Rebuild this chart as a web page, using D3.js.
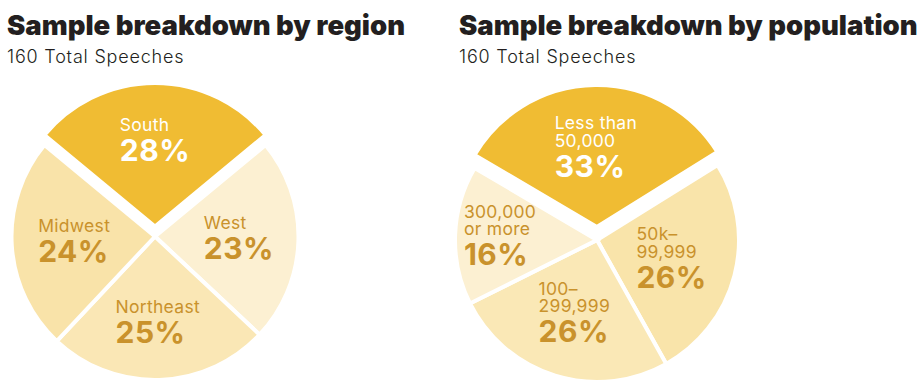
<!DOCTYPE html>
<html>
<head>
<meta charset="utf-8">
<script src="https://cdn.jsdelivr.net/npm/d3@7"></script>
<style>
  body { margin: 0; background: #fff; }
  text { font-family: Inter, "Open Sans", sans-serif; }
</style>
</head>
<body>
<div id="chart"></div>
<script>
const WIDTH = 924
const HEIGHT = 387

// data
const titles = ["Sample breakdown by region", "Sample breakdown by population"]
const subtitle = "160 Total Speeches"

const regionLabels = [["South"], ["West"], ["Northeast"], ["Midwest"]]
const regionValues = [28, 23, 25, 24]

const populationLabels = [["Less than", "50,000"], ["50k–", "99,999"], ["100–", "299,999"], ["300,000", "or more"]]
const populationValues = [33, 26, 26, 16]

// styles
const DARK = "#f0bc33"
const TEXT_GOLD = "#c9922c"

const regionPie = {
  x: 7, cx: 155, cy: 236.5, r: 143.5, start: -50.4, explode: 10,
  labelR: [86, 84, 87, 81],
  fills: [DARK, "#fcf0d2", "#fae7b5", "#f9e3a9"],
  textFills: ["#fff", TEXT_GOLD, TEXT_GOLD, TEXT_GOLD]
}

const populationPie = {
  x: 459, cx: 597, cy: 240, r: 142, start: -59.5, explode: 13,
  labelR: [79, 77, 77, 97],
  fills: [DARK, "#f9e4aa", "#fae8b6", "#fcf0d2"],
  textFills: ["#fff", TEXT_GOLD, TEXT_GOLD, TEXT_GOLD]
}

const svg = d3.select("#chart")
  .append("svg")
  .attr("width", WIDTH)
  .attr("height", HEIGHT)

drawPie(titles[0], regionLabels, regionValues, regionPie)
drawPie(titles[1], populationLabels, populationValues, populationPie)

function drawPie(title, labels, values, cfg) {
  // heading
  svg.append("text")
    .attr("x", cfg.x)
    .attr("y", 35)
    .attr("font-size", 27.5)
    .attr("font-weight", 900)
    .attr("fill", "#231f20")
    .text(title)

  svg.append("text")
    .attr("x", cfg.x)
    .attr("y", 63)
    .attr("font-size", 18)
    .attr("font-weight", 300)
    .attr("letter-spacing", 0.8)
    .attr("fill", "#231f20")
    .text(subtitle)

  const rad = Math.PI / 180
  const pie = d3.pie()
    .sort(null)
    .startAngle(cfg.start * rad)
    .endAngle(cfg.start * rad + 2 * Math.PI)

  const arc = d3.arc().innerRadius(0).outerRadius(cfg.r)

  const g = svg.append("g")
    .attr("transform", `translate(${cfg.cx},${cfg.cy})`)

  const slice = g.selectAll("g.slice")
    .data(pie(values))
    .join("g")
    .attr("class", "slice")
    .attr("transform", (d, i) => {
      const off = i === 0 ? cfg.explode : 0
      const a = (d.startAngle + d.endAngle) / 2
      return `translate(${Math.sin(a) * off},${-Math.cos(a) * off})`
    })

  slice.append("path")
    .attr("d", arc)
    .attr("fill", (d, i) => cfg.fills[i])
    .attr("stroke", "#fff")
    .attr("stroke-width", 4)
    .attr("stroke-linejoin", "miter")

  slice.each(function(d, i) {
    const lab = d3.select(this).append("g")
    const t = lab.append("text").attr("fill", cfg.textFills[i])
    labels[i].forEach((line, k) => {
      t.append("tspan")
        .attr("x", 0)
        .attr("y", k * 17.5)
        .attr("font-size", 17.5)
        .attr("font-weight", 400)
        .attr("letter-spacing", 0.3)
        .text(line)
    })
    t.append("tspan")
      .attr("x", 0)
      .attr("y", (labels[i].length - 1) * 17.5 + 30)
      .attr("font-size", 30)
      .attr("font-weight", 700)
      .attr("letter-spacing", 0.5)
      .text(d.data + "%")

    // centre the block on the label point
    const a = (d.startAngle + d.endAngle) / 2
    const px = Math.sin(a) * cfg.labelR[i]
    const py = -Math.cos(a) * cfg.labelR[i]
    const bb = t.node().getBBox()
    lab.attr("transform", `translate(${px - bb.x - bb.width / 2},${py - bb.y - bb.height / 2})`)
  })
}
</script>
</body>
</html>
